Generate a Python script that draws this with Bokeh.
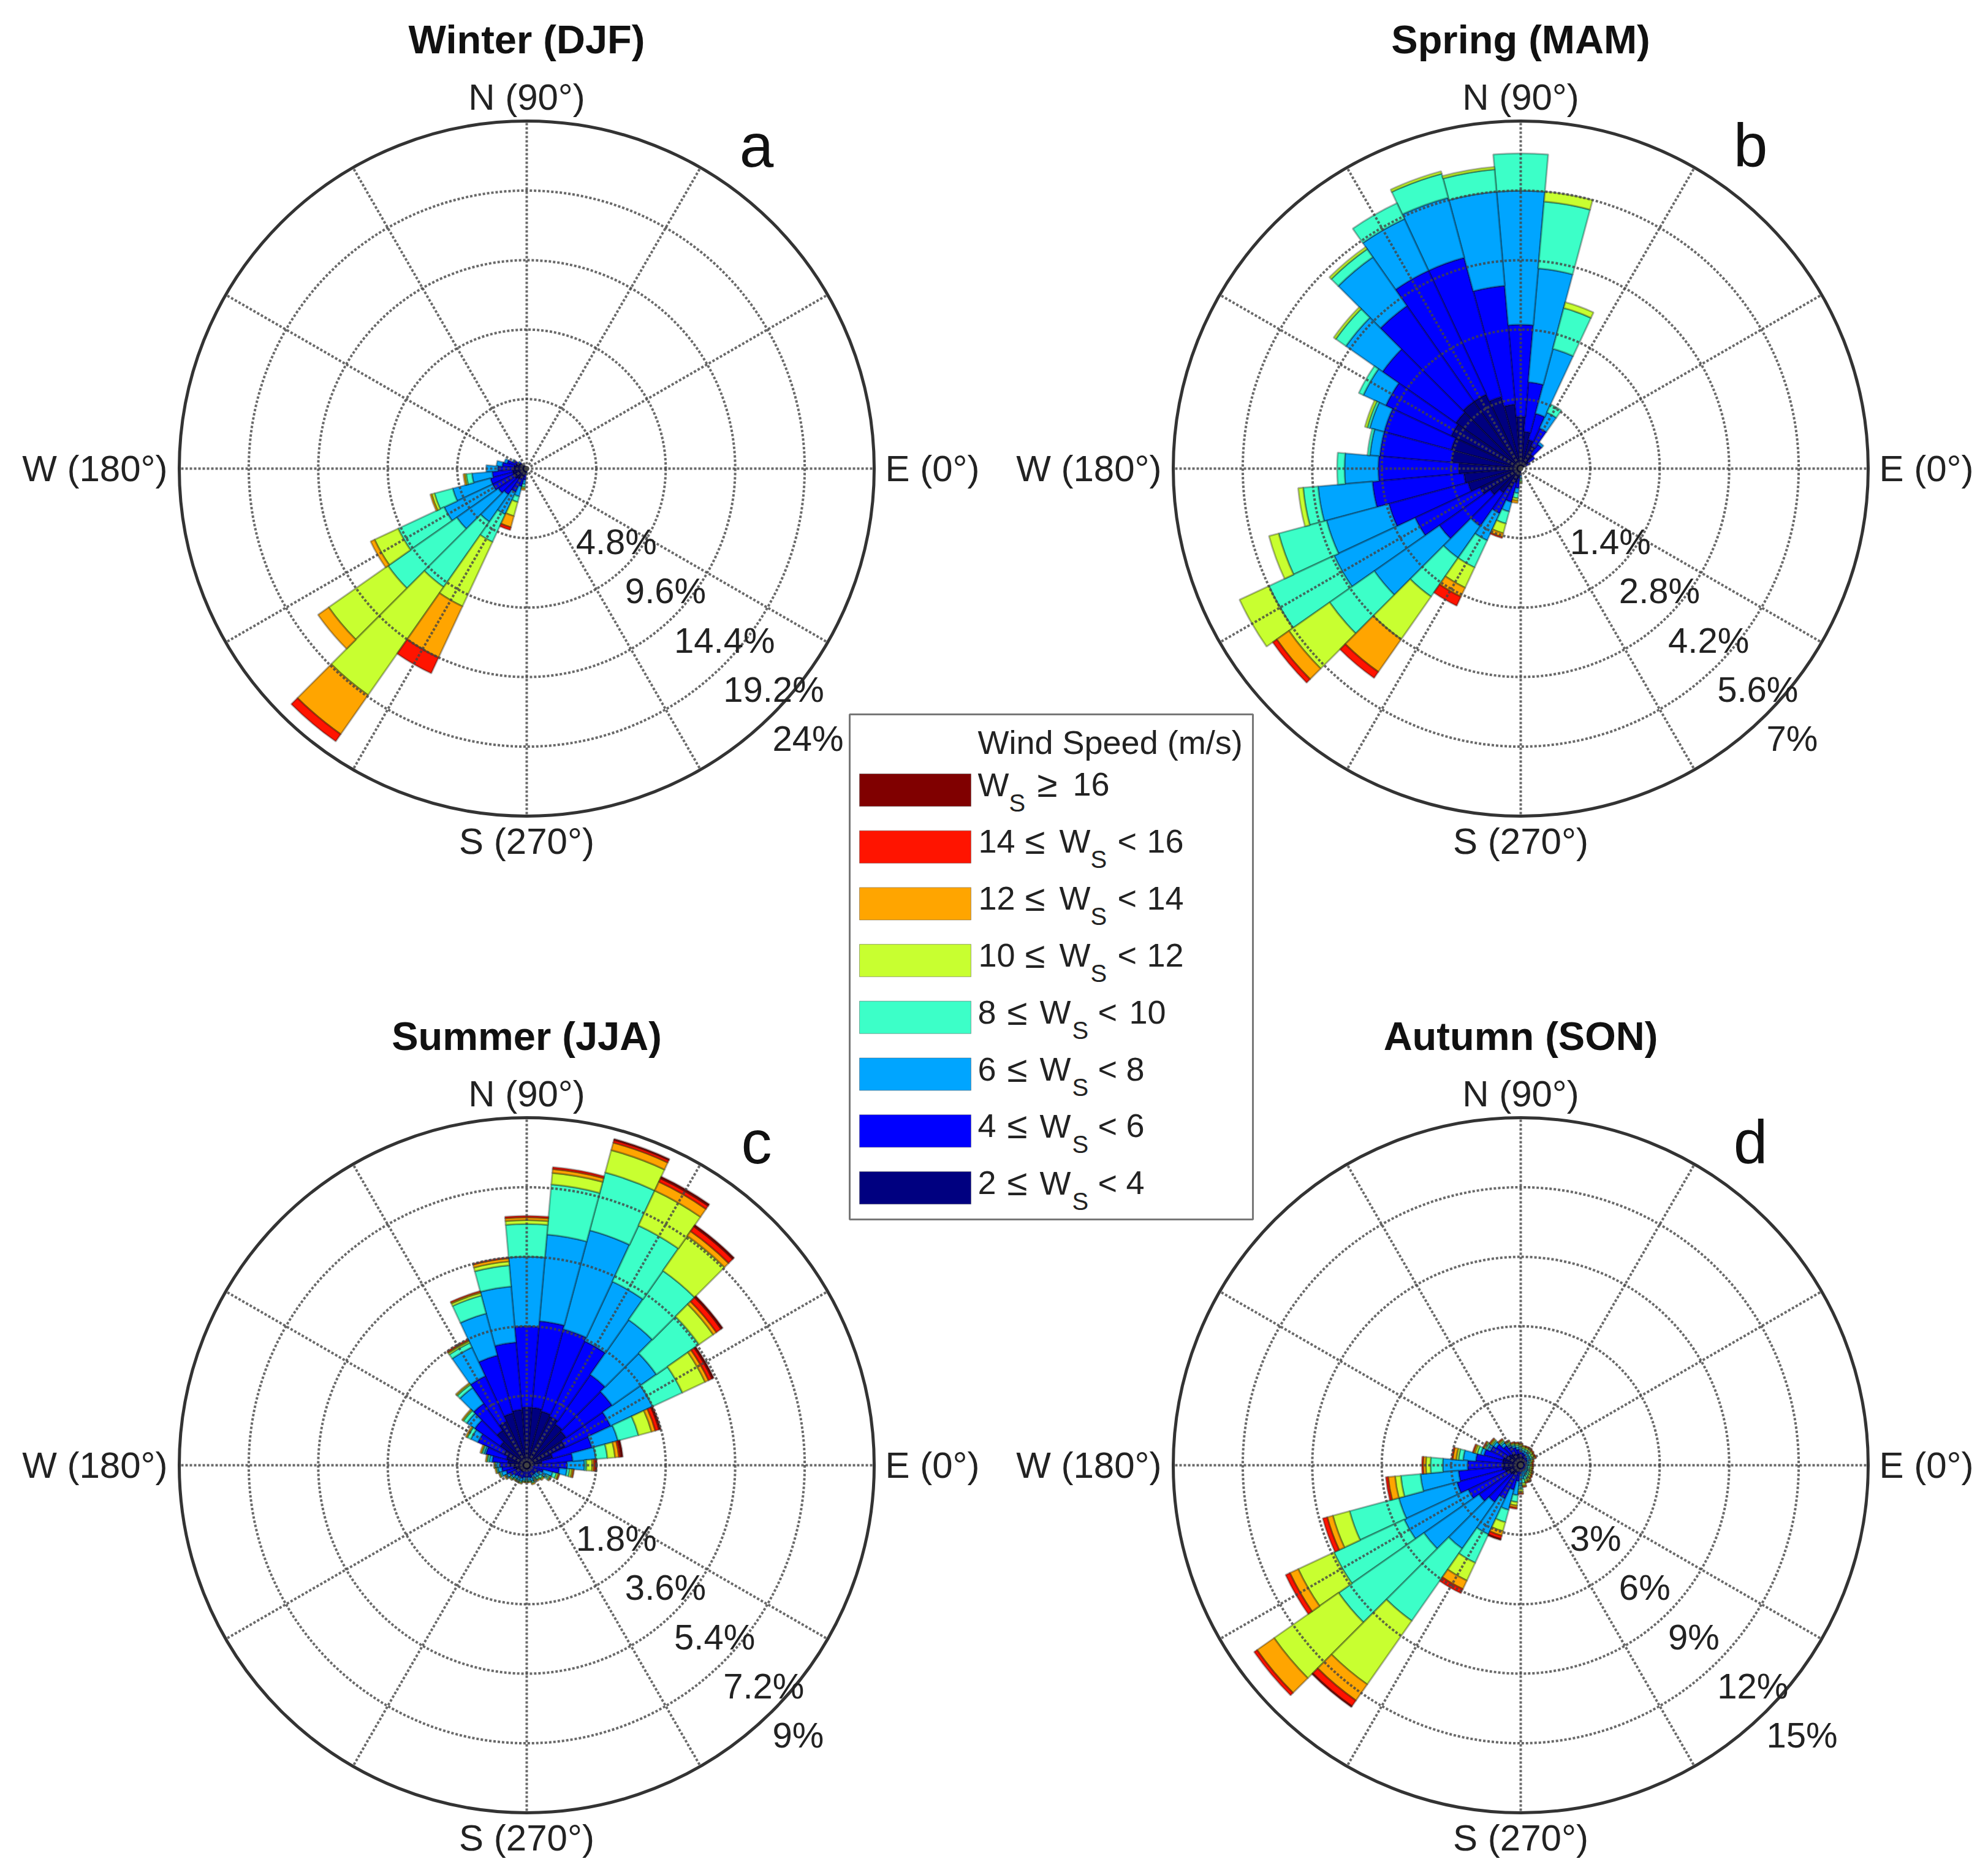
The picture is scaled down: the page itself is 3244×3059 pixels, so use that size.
import math
from bokeh.core.properties import value
from bokeh.embed import file_html
from bokeh.models import ColumnDataSource, Range1d
from bokeh.plotting import figure
from bokeh.resources import INLINE

# wind speed classes, slowest first
speed_colors = ["#000080", "#0000ff", "#00a5ff", "#3cffc8", "#c8ff30", "#ffa500", "#ff1400", "#800000"]

compass_labels = ["N (90\u00b0)", "W (180\u00b0)", "E (0\u00b0)", "S (270\u00b0)"]

# each list: cumulative frequency (%) per direction, up to the top of that speed class
winter_dirs = [110, 120, 130, 140, 150, 160, 170, 180, 190, 200, 210, 220, 230, 240, 250, 260, 270]
winter_lt4 = [.15, .2, .3, .5, .7, .8, .9, 1.0, 1.0, 1.0, 1.0, 1.0, .9, .8, .6, .4, .2]
winter_lt6 = [.15, .2, .3, .6, 1.0, 1.4, 1.7, 2.0, 2.4, 2.6, 2.6, 2.4, 2.2, 1.8, 1.3, .8, .3]
winter_lt8 = [.15, .2, .3, .7, 1.1, 1.6, 2.1, 2.8, 3.8, 5.3, 6.3, 5.9, 4.5, 3.5, 2.0, 1.1, .4]
winter_lt10 = [.15, .2, .3, .7, 1.1, 1.6, 2.1, 2.8, 4.2, 6.6, 9.8, 11.7, 10.0, 5.6, 2.4, 1.3, .4]
winter_lt12 = [.15, .2, .3, .7, 1.1, 1.6, 2.1, 2.8, 4.3, 6.8, 11.6, 16.7, 19.1, 10.5, 3.4, 1.4, .4]
winter_lt14 = [.15, .2, .3, .7, 1.1, 1.6, 2.1, 2.8, 4.4, 6.9, 11.9, 17.6, 22.4, 14.4, 4.2, 1.5, .4]
winter_lt16 = [.15, .2, .3, .7, 1.1, 1.6, 2.1, 2.8, 4.4, 6.9, 11.9, 17.6, 23.0, 15.6, 4.4, 1.5, .4]
winter_all = [.15, .2, .3, .7, 1.1, 1.6, 2.1, 2.8, 4.4, 6.9, 11.9, 17.6, 23.0, 15.6, 4.4, 1.5, .4]

spring_dirs = [30, 40, 50, 60, 70, 80, 90, 100, 110, 120, 130, 140, 150, 160, 170, 180, 190, 200, 210, 220, 230, 240, 250, 260, 270]
spring_lt4 = [.1, .2, .35, .5, .6, .75, 1.05, 1.3, 1.5, 1.65, 1.65, 1.6, 1.55, 1.45, 1.4, 1.25, 1.15, 1.1, .9, .75, .6, .45, .3, .2, .1]
spring_lt6 = [.2, .35, .6, .9, 1.15, 1.75, 2.9, 3.7, 4.4, 4.4, 4.0, 3.4, 3.0, 2.85, 2.85, 2.87, 3.0, 2.75, 2.35, 2.0, 1.42, 1.0, .7, .4, .15]
spring_lt8 = [.2, .35, .65, 1.25, 2.5, 4.05, 5.6, 5.6, 5.65, 5.55, 5.2, 4.3, 3.5, 3.15, 3.05, 3.55, 4.1, 4.05, 4.15, 3.6, 2.2, 1.6, .9, .5, .2]
spring_lt10 = [.2, .35, .65, 1.43, 3.35, 5.4, 6.35, 6.05, 6.15, 5.9, 5.4, 4.55, 3.6, 3.2, 3.1, 3.7, 4.4, 5.05, 5.6, 4.7, 3.15, 2.2, 1.15, .6, .25]
spring_lt12 = [.2, .35, .65, 1.43, 3.47, 5.6, 6.35, 6.1, 6.2, 5.9, 5.45, 4.6, 3.6, 3.25, 3.1, 3.7, 4.5, 5.25, 6.25, 5.7, 4.2, 2.65, 1.35, .65, .3]
spring_lt14 = [.2, .35, .65, 1.43, 3.47, 5.6, 6.35, 6.1, 6.2, 5.9, 5.45, 4.6, 3.6, 3.25, 3.1, 3.7, 4.5, 5.25, 6.25, 6.0, 5.0, 2.85, 1.43, .7, .3]
spring_lt16 = [.2, .35, .65, 1.43, 3.47, 5.6, 6.35, 6.1, 6.2, 5.9, 5.45, 4.6, 3.6, 3.25, 3.1, 3.7, 4.5, 5.25, 6.25, 6.1, 5.15, 3.05, 1.45, .7, .3]
spring_all = [.2, .35, .65, 1.43, 3.47, 5.6, 6.35, 6.1, 6.2, 5.9, 5.45, 4.6, 3.6, 3.25, 3.1, 3.7, 4.5, 5.25, 6.25, 6.1, 5.15, 3.05, 1.45, .7, .3]

summer_dirs = [0, 10, 20, 30, 40, 50, 60, 70, 80, 90, 100, 110, 120, 130, 140, 150, 160, 170, 180, 190, 200, 210, 220, 230, 240, 250, 260, 270, 280, 290, 300, 310, 320, 330, 340, 350]
summer_lt4 = [.2, .4, .7, 1.1, 1.25, 1.3, 1.4, 1.45, 1.5, 1.5, 1.45, 1.4, 1.25, 1.1, .85, .65, .55, .5, .45, .35, .3, .25, .2, .2, .2, .15, .15, .15, .15, .15, .1, .1, .1, .1, .1, .15]
summer_lt6 = [1.05, 1.2, 1.75, 2.4, 2.7, 2.87, 3.55, 3.65, 3.75, 3.6, 3.2, 2.95, 2.55, 1.95, 1.65, 1.4, 1.1, .9, .7, .65, .55, .48, .4, .36, .36, .36, .32, .32, .32, .34, .3, .3, .3, .35, .45, .85]
summer_lt8 = [1.5, 1.8, 2.45, 3.6, 4.1, 4.6, 5.25, 6.3, 6.0, 5.4, 4.65, 4.07, 3.37, 2.45, 1.9, 1.6, 1.15, .98, .78, .75, .68, .57, .48, .44, .44, .44, .4, .4, .4, .44, .4, .4, .42, .55, .7, 1.05]
summer_lt10 = [1.55, 2.1, 3.0, 4.45, 5.45, 6.15, 6.85, 7.85, 7.3, 6.25, 5.2, 4.55, 3.5, 2.55, 2.0, 1.7, 1.2, 1.03, .82, .78, .72, .6, .52, .47, .47, .47, .43, .43, .43, .48, .43, .46, .5, .65, .8, 1.12]
summer_lt12 = [1.7, 2.3, 3.35, 5.1, 5.9, 7.25, 7.85, 8.45, 7.6, 6.35, 5.3, 4.62, 3.55, 2.58, 2.03, 1.72, 1.22, 1.05, .84, .8, .74, .62, .54, .49, .49, .49, .44, .44, .44, .5, .44, .48, .53, .68, .85, 1.18]
summer_lt14 = [1.75, 2.4, 3.45, 5.2, 6.0, 7.4, 8.1, 8.65, 7.7, 6.42, 5.38, 4.65, 3.57, 2.6, 2.05, 1.75, 1.25, 1.07, .85, .82, .75, .64, .55, .5, .5, .5, .45, .45, .45, .52, .45, .5, .55, .7, .87, 1.22]
summer_lt16 = [1.8, 2.45, 3.55, 5.3, 6.15, 7.55, 8.2, 8.72, 7.75, 6.46, 5.4, 4.67, 3.6, 2.6, 2.05, 1.75, 1.25, 1.07, .85, .82, .75, .64, .55, .5, .5, .5, .45, .45, .45, .52, .45, .5, .55, .7, .88, 1.23]
summer_all = [1.82, 2.5, 3.6, 5.35, 6.2, 7.6, 8.25, 8.75, 7.75, 6.46, 5.4, 4.67, 3.6, 2.6, 2.05, 1.75, 1.25, 1.07, .85, .82, .75, .64, .55, .5, .5, .5, .45, .45, .45, .52, .45, .5, .55, .7, .88, 1.23]

autumn_dirs = summer_dirs
autumn_lt4 = [.1, .1, .12, .15, .2, .25, .3, .35, .4, .45, .5, .5, .55, .6, .65, .7, .8, .8, .8, .8, .7, .65, .55, .5, .4, .3, .2, .15, .12, .1, .1, .1, .1, .1, .1, .1]
autumn_lt6 = [.25, .25, .28, .33, .36, .4, .45, .5, .55, .62, .7, .8, .9, 1.05, 1.3, 1.45, 1.65, 1.95, 2.3, 2.7, 2.85, 2.5, 2.2, 1.95, 1.6, 1.1, .7, .4, .3, .25, .25, .25, .25, .25, .22, .22]
autumn_lt8 = [.35, .35, .4, .5, .52, .55, .6, .62, .65, .72, .8, .9, 1.0, 1.2, 1.45, 1.6, 1.8, 2.5, 3.37, 4.35, 5.45, 5.55, 5.1, 4.4, 3.3, 2.0, 1.3, .9, .6, .5, .45, .4, .38, .36, .33, .33]
autumn_lt10 = [.42, .42, .48, .6, .62, .66, .7, .72, .74, .82, .88, .95, 1.08, 1.28, 1.52, 1.68, 1.95, 2.7, 3.9, 5.2, 7.65, 8.9, 9.6, 8.2, 4.65, 2.55, 1.6, 1.05, .78, .65, .6, .55, .5, .46, .42, .42]
autumn_lt12 = [.48, .48, .54, .68, .7, .74, .78, .8, .8, .9, .95, 1.0, 1.14, 1.34, 1.58, 1.74, 2.05, 2.8, 4.1, 5.45, 8.4, 10.6, 13.0, 11.55, 5.5, 2.95, 1.75, 1.15, .88, .73, .72, .64, .58, .54, .5, .5]
autumn_lt14 = [.52, .52, .58, .72, .73, .78, .83, .83, .84, .93, .98, 1.03, 1.18, 1.38, 1.63, 1.78, 2.12, 2.95, 4.22, 5.75, 8.65, 11.0, 13.9, 12.4, 5.9, 3.15, 1.85, 1.22, .93, .78, .78, .68, .63, .58, .54, .54]
autumn_lt16 = [.55, .55, .6, .75, .75, .8, .85, .85, .85, .95, 1.0, 1.05, 1.2, 1.4, 1.65, 1.8, 2.15, 3.0, 4.27, 5.85, 8.85, 11.2, 14.05, 12.7, 6.1, 3.3, 1.9, 1.25, .95, .8, .8, .7, .65, .6, .55, .55]
autumn_all = [.55, .55, .6, .75, .75, .8, .85, .85, .85, .95, 1.0, 1.05, 1.2, 1.4, 1.65, 1.8, 2.15, 3.0, 4.27, 5.85, 8.85, 11.2, 14.05, 12.75, 6.1, 3.35, 1.9, 1.25, .95, .8, .8, .7, .65, .6, .55, .55]

winter_ticks = ["4.8%", "9.6%", "14.4%", "19.2%", "24%"]
spring_ticks = ["1.4%", "2.8%", "4.2%", "5.6%", "7%"]
summer_ticks = ["1.8%", "3.6%", "5.4%", "7.2%", "9%"]
autumn_ticks = ["3%", "6%", "9%", "12%", "15%"]

legend_low = ["", "14", "12", "10", "8", "6", "4", "2"]
legend_high = ["16", "16", "14", "12", "10", "8", "6", "4"]

W, H = 3244, 3059
R = 567
FONT = value("Liberation Sans")
BIN = math.radians(10)

seasons = [
    dict(title="Winter (DJF)", letter="a", cx=859, cy=764, rmax=24, dirs=winter_dirs, ticks=winter_ticks,
         stacks=[winter_lt4, winter_lt6, winter_lt8, winter_lt10, winter_lt12, winter_lt14, winter_lt16, winter_all]),
    dict(title="Spring (MAM)", letter="b", cx=2481, cy=764, rmax=7, dirs=spring_dirs, ticks=spring_ticks,
         stacks=[spring_lt4, spring_lt6, spring_lt8, spring_lt10, spring_lt12, spring_lt14, spring_lt16, spring_all]),
    dict(title="Summer (JJA)", letter="c", cx=859, cy=2390, rmax=9, dirs=summer_dirs, ticks=summer_ticks,
         stacks=[summer_lt4, summer_lt6, summer_lt8, summer_lt10, summer_lt12, summer_lt14, summer_lt16, summer_all]),
    dict(title="Autumn (SON)", letter="d", cx=2481, cy=2390, rmax=15, dirs=autumn_dirs, ticks=autumn_ticks,
         stacks=[autumn_lt4, autumn_lt6, autumn_lt8, autumn_lt10, autumn_lt12, autumn_lt14, autumn_lt16, autumn_all]),
]


def up(y):
    # picture rows run downward, the figure's y runs upward
    return H - y


p = figure(
    width=W - 16,
    height=H - 16,
    x_range=Range1d(0, W - 16),
    y_range=Range1d(16, H),
    toolbar_location=None,
    output_backend="svg",
    background_fill_color="white",
    border_fill_color="white",
    outline_line_color=None,
    min_border=0,
)
p.axis.visible = False
p.grid.visible = False


def draw_text(x, y, text, size, **kw):
    kw.setdefault("text_font", FONT)
    kw.setdefault("text_color", "#222222")
    kw.setdefault("text_align", "center")
    kw.setdefault("text_baseline", "middle")
    p.text(x=x, y=y, text=text, text_font_size=size, **kw)


def draw_season(s):
    cx, cy = s["cx"], up(s["cy"])
    scale = R / s["rmax"]
    prev = [0.0] * len(s["dirs"])
    for color, stack in zip(speed_colors, s["stacks"]):
        rows = [(d, a, b) for d, a, b in zip(s["dirs"], prev, stack) if b > a]
        src = ColumnDataSource({
            "x": [cx] * len(rows),
            "y": [cy] * len(rows),
            "inner": [a * scale for _, a, _ in rows],
            "outer": [b * scale for _, _, b in rows],
            "start": [math.radians(d) - BIN / 2 for d, _, _ in rows],
            "end": [math.radians(d) + BIN / 2 for d, _, _ in rows],
        })
        p.annular_wedge("x", "y", "inner", "outer", "start", "end", source=src, fill_color=color,
                        line_color="#000000", line_alpha=0.3, line_width=3)
        prev = stack

    # polar grid goes over the wedges
    for k in range(1, 5):
        p.circle(x=cx, y=cy, radius=R * k / 5, fill_color=None, line_color="#444444",
                 line_width=4, line_dash="4 3", line_alpha=0.8)
    for deg in range(0, 360, 30):
        a = math.radians(deg)
        p.line(x=[cx, cx + R * math.cos(a)], y=[cy, cy + R * math.sin(a)], line_color="#444444",
               line_width=4, line_dash="4 3", line_alpha=0.8)
    p.circle(x=cx, y=cy, radius=R, fill_color=None, line_color="#333333", line_width=5)

    draw_text([cx], [cy + 606], [compass_labels[0]], "60px")
    draw_text([cx - 586], [cy], [compass_labels[1]], "60px", text_align="right")
    draw_text([cx + 585], [cy], [compass_labels[2]], "60px", text_align="left")
    draw_text([cx], [cy - 608], [compass_labels[3]], "60px")

    off = [R * (k + 1) / 5 * math.cos(math.pi / 4) for k in range(5)]
    draw_text([cx + o for o in off], [cy - o - 39 for o in off], s["ticks"], "58px", text_align="left")

    draw_text([cx], [cy + 700], [s["title"]], "65px", text_font_style="bold", text_color="#111111")
    draw_text([cx + 375], [cy + 528], [s["letter"]], "100px", text_color="#111111")


for s in seasons:
    draw_season(s)

# legend box sits over the panels
p.quad(left=1386, right=2044, top=up(1165), bottom=up(1989), fill_color="white", line_color="#777777", line_width=3)
draw_text([1595], [up(1210)], ["Wind Speed (m/s)"], "54px", text_align="left")

row_colors = speed_colors[::-1]
for i, (color, low, high) in enumerate(zip(row_colors, legend_low, legend_high)):
    top = 1262 + i * 92.7
    mid = 1279 + i * 92.9
    p.quad(left=1402, right=1584, top=up(top), bottom=up(top + 53), fill_color=color, line_color="#555555",
           line_alpha=0.5, line_width=1)
    if i == 0:
        xs = [None, None, 1595, 1646, 1692, 1750]
    elif len(low) == 2:
        xs = [1596, 1672, 1728, 1779, 1823, 1871]
    else:
        xs = [1595, 1643, 1696, 1749, 1791, 1837 + (5 if len(high) == 2 else 0)]
    y = up(mid)
    if low:
        draw_text([xs[0]], [y], [low], "54px", text_align="left")
        draw_text([xs[1]], [y], ["\u2264"], "60px", text_align="left")
    draw_text([xs[2]], [y], ["W"], "54px", text_align="left")
    draw_text([xs[3]], [y - 30], ["S"], "40px", text_align="left")
    draw_text([xs[4]], [y], ["\u2265" if i == 0 else "<"], "60px" if i == 0 else "54px", text_align="left")
    draw_text([xs[5]], [y], [high], "54px", text_align="left")

open("out.html", "w").write(file_html(p, INLINE))
